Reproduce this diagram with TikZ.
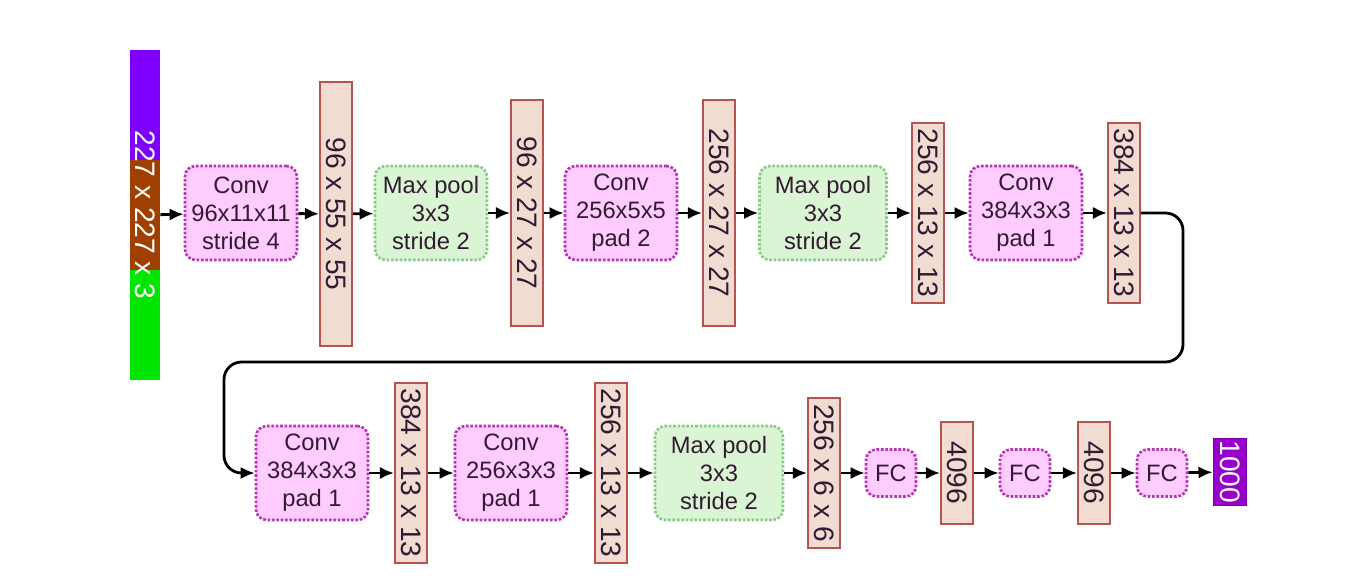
\documentclass[tikz,border=0pt]{standalone}
\usepackage{fontspec}
\setmainfont{Liberation Sans}
\usetikzlibrary{arrows.meta}
\definecolor{convfill}{HTML}{FFCCFF}
\definecolor{convdraw}{HTML}{B833B8}
\definecolor{poolfill}{HTML}{D9F5D3}
\definecolor{pooldraw}{HTML}{88CC88}
\definecolor{barfill}{HTML}{F2DCD2}
\definecolor{bardraw}{HTML}{B85450}
\definecolor{txt}{HTML}{331A33}
\definecolor{inpurple}{HTML}{7F00FF}
\definecolor{inbrown}{HTML}{A04000}
\definecolor{ingreen}{HTML}{00E600}
\definecolor{outfill}{HTML}{9900CC}
\begin{document}
\begin{tikzpicture}[x=0.02cm,y=-0.02cm,font=\fontsize{13.5}{16}\selectfont,
  arr/.style={-{Latex[length=8pt,width=7pt]},line width=1.6pt},
  conv/.style={draw=convdraw,fill=convfill,densely dotted,line width=1.5pt,rounded corners=6pt,
    align=center,text=txt,minimum width=2.24cm,minimum height=1.88cm,inner sep=0pt},
  pool/.style={conv,draw=pooldraw,fill=poolfill},
  fc/.style={conv,minimum width=1cm,minimum height=0.94cm},
  blob/.style={draw=bardraw,fill=barfill,line width=1.1pt,rotate=-90,minimum height=0.64cm,
    inner sep=0pt,text=txt,font=\fontsize{16}{18}\selectfont}]
\useasboundingbox[fill=white](0,0)rectangle(1348,580);
% input image
\fill[inpurple](130,50)rectangle(160,160);
\fill[inbrown](130,160)rectangle(160,270);
\fill[ingreen](130,270)rectangle(160,380);
\node[rotate=-90,minimum width=6.6cm,minimum height=0.6cm,inner sep=0pt,text=white,
  font=\fontsize{16}{18}\selectfont](inp)at(145,215){227 x 227 x 3};
% first row
\node[conv](c1)at(241,213){Conv\\96x11x11\\stride 4};
\node[blob,minimum width=5.28cm](b1)at(336,214){96 x 55 x 55};
\node[pool](p1)at(431,213){Max pool\\3x3\\stride 2};
\node[blob,minimum width=4.52cm](b2)at(527,213){96 x 27 x 27};
\node[conv](c2)at(621,213){Conv\\256x5x5\\pad 2};
\node[blob,minimum width=4.52cm](b3)at(719,213){256 x 27 x 27};
\node[pool,minimum width=2.54cm](p2)at(823,213){Max pool\\3x3\\stride 2};
\node[blob,minimum width=3.6cm](b4)at(928,213){256 x 13 x 13};
\node[conv](c3)at(1026,213){Conv\\384x3x3\\pad 1};
\node[blob,minimum width=3.6cm](b5)at(1124,213){384 x 13 x 13};
% second row
\node[conv](c4)at(312,473){Conv\\384x3x3\\pad 1};
\node[blob,minimum width=3.6cm](b6)at(411,473){384 x 13 x 13};
\node[conv](c5)at(511,473){Conv\\256x3x3\\pad 1};
\node[blob,minimum width=3.6cm](b7)at(611,473){256 x 13 x 13};
\node[pool,minimum width=2.56cm](p3)at(719,473){Max pool\\3x3\\stride 2};
\node[blob,minimum width=3cm](b8)at(824,473){256 x 6 x 6};
\node[fc](f1)at(891,473){FC};
\node[blob,minimum width=2.04cm](b9)at(957,473){4096};
\node[fc](f2)at(1025,473){FC};
\node[blob,minimum width=2.04cm](b10)at(1094,473){4096};
\node[fc](f3)at(1162,473){FC};
\node[blob,draw=outfill!80!black,fill=outfill,text=white,minimum width=1.34cm,minimum height=0.66cm](out)at(1230,472){1000};
% connectors
\foreach \a/\b in {inp/c1,c1/b1,b1/p1,p1/b2,b2/c2,c2/b3,b3/p2,p2/b4,b4/c3,c3/b5,
  c4/b6,b6/c5,c5/b7,b7/p3,p3/b8,b8/f1,f1/b9,b9/f2,f2/b10,b10/f3,f3/out}
  \draw[arr](\a)--(\b);
\coordinate(wrapA)at(1183,213);
\coordinate(wrapB)at(1183,362);
\coordinate(wrapC)at(224,362);
\coordinate(wrapD)at(224,473);
\draw[arr,rounded corners=10pt](b5)--(wrapA)--(wrapB)--(wrapC)--(wrapD)--(c4);
\end{tikzpicture}
\end{document}
